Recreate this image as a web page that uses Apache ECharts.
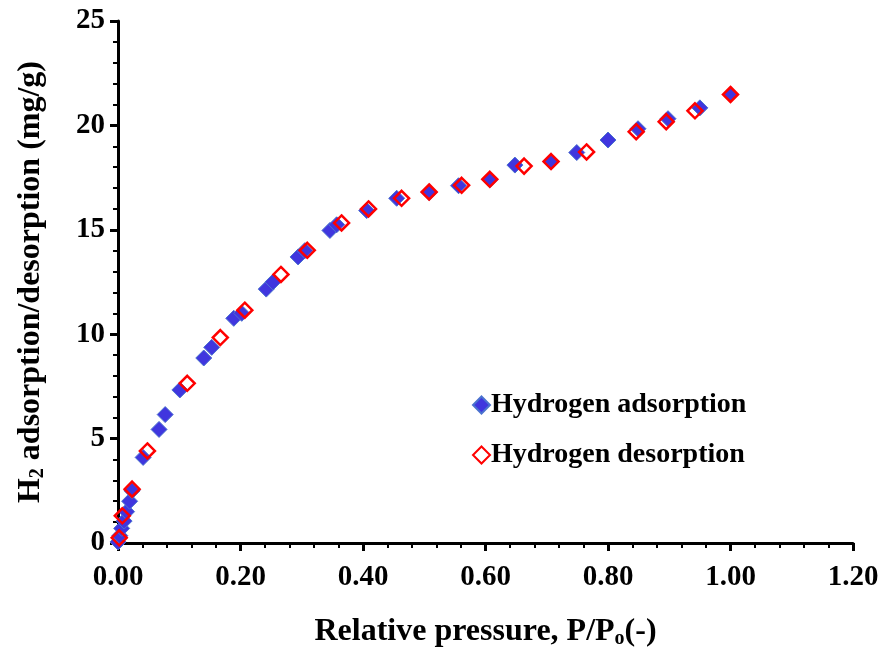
<!DOCTYPE html>
<html>
<head>
<meta charset="utf-8">
<script src="https://cdn.jsdelivr.net/npm/echarts@6/dist/echarts.min.js"></script>
<style>
  html, body { margin: 0; padding: 0; background: #ffffff; }
  #chart { width: 884px; height: 654px; }
</style>
</head>
<body>
<div id="chart"></div>
<script>
// H2 uptake isotherm: relative pressure P/Po vs adsorbed amount (mg/g)
const adsorptionP = [0.000, 0.003, 0.006, 0.010, 0.014, 0.019, 0.023, 0.041, 0.067, 0.077, 0.101, 0.140, 0.153, 0.189, 0.202, 0.242, 0.253, 0.294, 0.305, 0.346, 0.357, 0.406, 0.455, 0.508, 0.556, 0.607, 0.648, 0.707, 0.749, 0.800, 0.849, 0.898, 0.950, 1.000];
const adsorptionQ = [0.05, 0.35, 0.70, 1.05, 1.50, 2.00, 2.50, 4.10, 5.44, 6.15, 7.33, 8.86, 9.37, 10.76, 11.00, 12.16, 12.50, 13.70, 14.00, 14.97, 15.24, 15.92, 16.51, 16.79, 17.11, 17.40, 18.10, 18.25, 18.70, 19.30, 19.84, 20.32, 20.84, 21.48];

const desorptionP = [0.002, 0.007, 0.023, 0.048, 0.113, 0.167, 0.207, 0.266, 0.309, 0.365, 0.409, 0.463, 0.508, 0.561, 0.607, 0.663, 0.707, 0.765, 0.846, 0.895, 0.942, 1.000];
const desorptionQ = [0.25, 1.30, 2.58, 4.41, 7.65, 9.84, 11.15, 12.86, 14.02, 15.33, 16.00, 16.51, 16.81, 17.13, 17.42, 18.05, 18.27, 18.73, 19.70, 20.18, 20.70, 21.48];

const seriesNames = ['Hydrogen adsorption', 'Hydrogen desorption'];
const xTitle = ['Relative pressure, P/P', 'o', '(-)'];
const yTitle = ['H', '2', ' adsorption/desorption (mg/g)'];

const FONT = '"Liberation Serif", "Times New Roman", serif';

const pairs = (xs, ys) => xs.map((x, i) => [x, ys[i]]);

const chart = echarts.init(document.getElementById('chart'), null, { renderer: 'canvas' });

const axisCommon = {
  axisLine: { show: true, onZero: false, lineStyle: { color: '#000', width: 3 } },
  axisTick: { show: true, inside: false, length: 8, lineStyle: { color: '#000', width: 3 } },
  minorTick: { show: true, splitNumber: 5, length: 5, lineStyle: { color: '#000', width: 2 } },
  splitLine: { show: false },
  minorSplitLine: { show: false },
  axisLabel: { color: '#000', fontFamily: FONT, fontWeight: 'bold', fontSize: 29 }
};

const titleRich = {
  t: { fontFamily: FONT, fontWeight: 'bold', fontSize: 32, color: '#000' },
  s: { fontFamily: FONT, fontWeight: 'bold', fontSize: 20, color: '#000', padding: [14, 0, 0, 0] }
};

chart.setOption({
  animation: false,
  backgroundColor: '#ffffff',
  grid: { left: 118, right: 31, top: 21, bottom: 108, containLabel: false },
  xAxis: Object.assign({}, axisCommon, {
    type: 'value', min: 0, max: 1.2, interval: 0.2,
    axisLabel: Object.assign({}, axisCommon.axisLabel, {
      margin: 20,
      formatter: v => v.toFixed(2)
    }),
    name: '{t|' + xTitle[0] + '}{s|' + xTitle[1] + '}{t|' + xTitle[2] + '}',
    nameLocation: 'middle',
    nameGap: 72,
    nameTextStyle: { rich: titleRich }
  }),
  yAxis: Object.assign({}, axisCommon, {
    type: 'value', min: 0, max: 25, interval: 5,
    axisLabel: Object.assign({}, axisCommon.axisLabel, { margin: 13 }),
    name: '{t|' + yTitle[0] + '}{s|' + yTitle[1] + '}{t|' + yTitle[2] + '}',
    nameLocation: 'middle',
    nameGap: 70,
    nameRotate: 90,
    nameTextStyle: { rich: titleRich }
  }),
  legend: {
    orient: 'vertical',
    left: 467,
    top: 386,
    itemGap: 22,
    itemWidth: 17,
    itemHeight: 17,
    textStyle: { fontFamily: FONT, fontWeight: 'bold', fontSize: 28, color: '#000', padding: [0, 0, 0, -4] },
    data: [
      { name: seriesNames[0], icon: 'diamond' },
      { name: seriesNames[1], icon: 'diamond' }
    ]
  },
  series: [
    {
      name: seriesNames[0],
      type: 'scatter',
      symbol: 'diamond',
      symbolSize: 16,
      z: 2,
      itemStyle: { color: '#4036DE', borderColor: '#4A72CF', borderWidth: 1, opacity: 1 },
      data: pairs(adsorptionP, adsorptionQ)
    },
    {
      name: seriesNames[1],
      type: 'scatter',
      symbol: 'diamond',
      symbolSize: 15,
      z: 3,
      itemStyle: { color: 'rgba(255,255,255,0)', borderColor: '#FF0000', borderWidth: 2.5, opacity: 1 },
      data: pairs(desorptionP, desorptionQ)
    }
  ]
});
</script>
</body>
</html>
